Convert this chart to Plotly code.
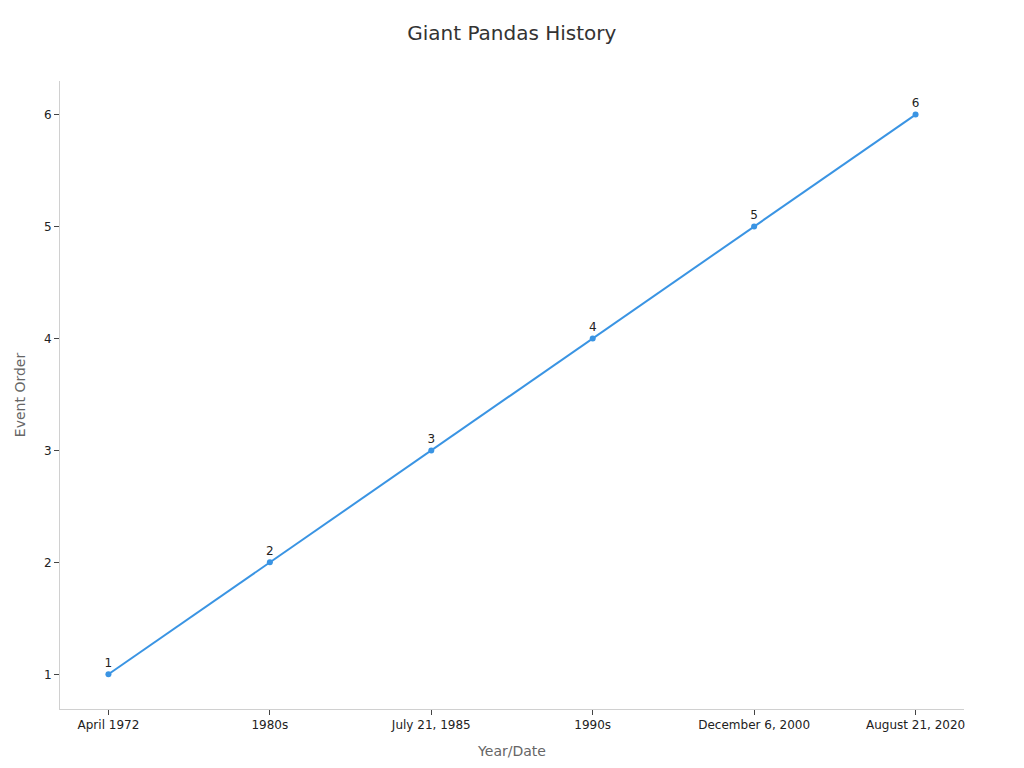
import plotly.graph_objects as go

# event dates (category axis) and their order
dates = ["April 1972", "1980s", "July 21, 1985", "1990s", "December 6, 2000", "August 21, 2020"]
event_order = [1, 2, 3, 4, 5, 6]

fig = go.Figure()
fig.add_trace(go.Scatter(
    x=dates,
    y=event_order,
    mode="lines+markers+text",
    text=[str(v) for v in event_order],
    textposition="top center",
    textfont=dict(size=12, color="#222222"),
    line=dict(color="#3a94e3", width=2),
    marker=dict(color="#3a94e3", size=6),
    showlegend=False,
))

fig.update_layout(
    title=dict(text="Giant Pandas History", x=0.492, xanchor="center",
               y=0.967, yanchor="middle",
               font=dict(size=20, color="#333333")),
    width=1024,
    height=768,
    plot_bgcolor="white",
    paper_bgcolor="white",
    font=dict(family="DejaVu Sans, sans-serif", size=12, color="#222222"),
    margin=dict(l=52, r=68, t=73, b=67),
)
fig.update_xaxes(
    type="category",
    range=[-0.3, 5.3],
    title=dict(text="Year/Date", font=dict(size=14, color="#666666"), standoff=14),
    showgrid=False,
    showline=True, linecolor="#d0d0d0", linewidth=1,
    ticks="outside", tickcolor="#444444", ticklen=5,
    zeroline=False,
)
fig.update_yaxes(
    range=[0.69, 6.3],
    dtick=1,
    title=dict(text="Event Order", font=dict(size=14, color="#666666"), standoff=15),
    showgrid=False,
    showline=True, linecolor="#d0d0d0", linewidth=1,
    ticks="outside", tickcolor="#444444", ticklen=5,
    zeroline=False,
)

fig.write_html("out.html")
